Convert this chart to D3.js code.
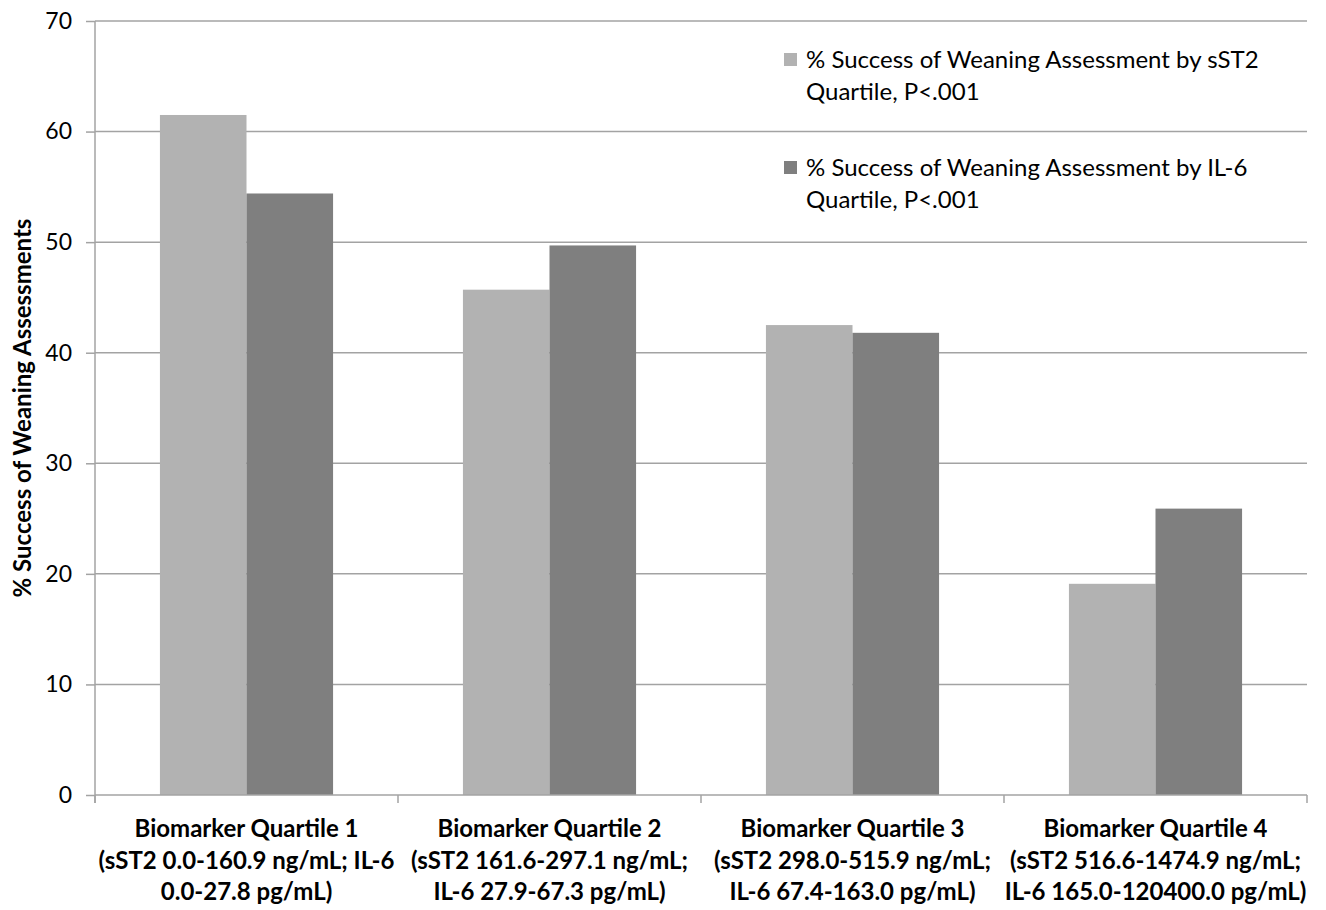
<!DOCTYPE html>
<html>
<head>
<meta charset="utf-8">
<script src="https://cdn.jsdelivr.net/npm/d3@7"></script>
<style>
  body { margin: 0; background: #fff; }
  text { font-family: Lato, "Open Sans", sans-serif; fill: #000; }
</style>
</head>
<body>
<div id="vis"></div>
<script>
// chart values
const categories = ["Q1", "Q2", "Q3", "Q4"];
const categoryLabels = [
  ["Biomarker Quartile 1", "(sST2 0.0-160.9 ng/mL; IL-6", "0.0-27.8 pg/mL)"],
  ["Biomarker Quartile 2", "(sST2 161.6-297.1 ng/mL;", "IL-6 27.9-67.3 pg/mL)"],
  ["Biomarker Quartile 3", "(sST2 298.0-515.9 ng/mL;", "IL-6 67.4-163.0 pg/mL)"],
  ["Biomarker Quartile 4", "(sST2 516.6-1474.9 ng/mL;", "IL-6 165.0-120400.0 pg/mL)"]
];
const seriesKeys = ["sST2", "IL6"];
const seriesNames = [
  ["% Success of Weaning Assessment by sST2", "Quartile, P<.001"],
  ["% Success of Weaning Assessment by IL-6", "Quartile, P<.001"]
];
const sst2Values = [61.5, 45.7, 42.5, 19.1];
const il6Values = [54.4, 49.7, 41.8, 25.9];
const yTicks = [0, 10, 20, 30, 40, 50, 60, 70];
const yTitle = "% Success of Weaning Assessments";

const width = 1326, height = 910;
const margin = { top: 21, right: 19, bottom: 115, left: 95 };
const colors = { sST2: "#b2b2b2", IL6: "#7f7f7f" };
const gridColor = "#a3a3a3";

const svg = d3.select("#vis").append("svg")
  .attr("width", width)
  .attr("height", height);

const x0 = d3.scaleBand()
  .domain(categories)
  .range([margin.left, width - margin.right])
  .padding(0);

const x1 = d3.scaleBand()
  .domain(seriesKeys)
  .range([0, x0.bandwidth()])
  .paddingInner(0)
  .paddingOuter(0.75);

const y = d3.scaleLinear()
  .domain([0, 70])
  .range([height - margin.bottom, margin.top]);

const color = d3.scaleOrdinal(seriesKeys, [colors.sST2, colors.IL6]);

const rows = categories.map((c, i) => ({ cat: c, sST2: sst2Values[i], IL6: il6Values[i] }));

// gridlines + y ticks
svg.append("g")
  .attr("transform", `translate(${margin.left},0)`)
  .call(d3.axisLeft(y).tickValues(yTicks).tickSize(9).tickPadding(14))
  .call(g => g.select(".domain").remove())
  .call(g => g.selectAll(".tick line").attr("stroke", gridColor).attr("stroke-width", 1.5))
  .call(g => g.selectAll(".tick text")
    .style("font-size", "23px")
    .attr("fill", "#000"));

svg.append("g")
  .selectAll("line")
  .data(yTicks.filter(d => d > 0))
  .join("line")
    .attr("x1", margin.left)
    .attr("x2", width - margin.right)
    .attr("y1", d => y(d))
    .attr("y2", d => y(d))
    .attr("stroke", gridColor)
    .attr("stroke-width", 1.5);

// bars
svg.append("g")
  .selectAll("g")
  .data(rows)
  .join("g")
    .attr("transform", d => `translate(${x0(d.cat)},0)`)
  .selectAll("rect")
  .data(d => seriesKeys.map(k => ({ key: k, value: d[k] })))
  .join("rect")
    .attr("x", d => x1(d.key))
    .attr("width", x1.bandwidth())
    .attr("y", d => y(d.value))
    .attr("height", d => y(0) - y(d.value))
    .attr("fill", d => color(d.key));

// axes lines
const y0 = y(0);
svg.append("line")
  .attr("x1", margin.left).attr("x2", width - margin.right)
  .attr("y1", y0).attr("y2", y0)
  .attr("stroke", gridColor).attr("stroke-width", 1.5);
svg.append("line")
  .attr("x1", margin.left).attr("x2", margin.left)
  .attr("y1", y(70)).attr("y2", y0 + 8)
  .attr("stroke", gridColor).attr("stroke-width", 1.5);

const bounds = categories.map(c => x0(c)).concat([x0(categories[categories.length - 1]) + x0.bandwidth()]);
svg.append("g")
  .selectAll("line")
  .data(bounds)
  .join("line")
    .attr("x1", d => d).attr("x2", d => d)
    .attr("y1", y0).attr("y2", y0 + 8)
    .attr("stroke", gridColor).attr("stroke-width", 1.5);

// category labels
svg.append("g")
  .selectAll("text")
  .data(categories)
  .join("text")
    .attr("text-anchor", "middle")
    .attr("font-weight", "bold")
    .style("font-size", "24px")
    .attr("transform", (c) => `translate(${x0(c) + x0.bandwidth() / 2},${y0 + 42})`)
  .selectAll("tspan")
  .data((c, i) => categoryLabels[i])
  .join("tspan")
    .attr("x", 0)
    .attr("y", (d, i) => i * 31.5)
    .text(d => d);

// y title
svg.append("text")
  .attr("transform", `translate(31,${(y(0) + y(70)) / 2}) rotate(-90)`)
  .attr("text-anchor", "middle")
  .attr("font-weight", "bold")
  .style("font-size", "24px")
  .text(yTitle);

// legend
const legend = svg.append("g")
  .selectAll("g")
  .data(seriesKeys)
  .join("g")
    .attr("transform", (d, i) => `translate(784,${53 + i * 108})`);

legend.append("rect")
  .attr("width", 13).attr("height", 13)
  .attr("fill", d => color(d));

legend.append("text")
  .style("font-size", "24px")
  .selectAll("tspan")
  .data((d, i) => seriesNames[i])
  .join("tspan")
    .attr("x", 22)
    .attr("y", (d, i) => 15 + i * 32)
    .text(d => d);
</script>
</body>
</html>
